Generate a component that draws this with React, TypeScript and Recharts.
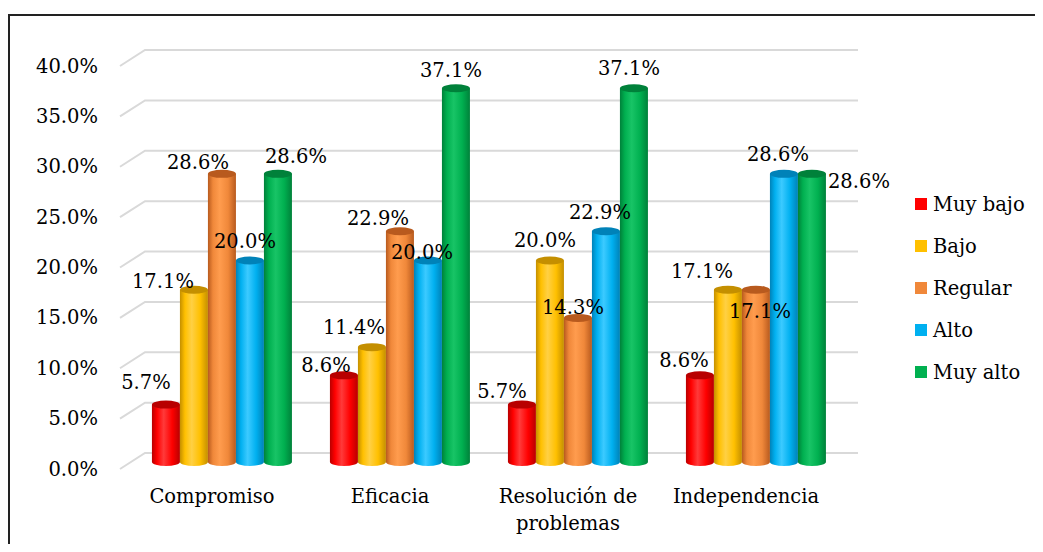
import { Bar, BarChart, CartesianGrid, LabelList, XAxis, YAxis } from 'recharts'

const CATEGORIES = ['Compromiso', 'Eficacia', 'Resolución de problemas', 'Independencia']
const MUY_BAJO = [5.7, 8.6, 5.7, 8.6]
const BAJO = [17.1, 11.4, 20.0, 17.1]
const REGULAR = [28.6, 22.9, 14.3, 17.1]
const ALTO = [20.0, 20.0, 22.9, 28.6]
const MUY_ALTO = [28.6, 37.1, 37.1, 28.6]
const Y_TICKS = [0, 5, 10, 15, 20, 25, 30, 35, 40]

const FONT = '"DejaVu Serif", "Liberation Serif", serif'
const FONT_SIZE = 19.5

// label placement relative to the bar's top centre, [dx, dy] per category (Excel moved a few to avoid overlaps)
const LABEL_OFFSETS: Record<string, [number, number][]> = {
  muyBajo: [[-20, -22], [-18, -10], [-20, -13], [-16, -15]],
  bajo: [[-31, -8], [-18, -20], [-5, -20], [-26, -18]],
  regular: [[-24, -11], [-22, -13], [-5, -10], [4, 22]],
  alto: [[-5, -19], [-6, -8], [-6, -19], [-6, -19]],
  muyAlto: [[18, -17], [-5, -18], [-5, -20], [47, 8]],
}

const SERIES = [
  { key: 'muyBajo', name: 'Muy bajo', values: MUY_BAJO, base: '#FF0000', dark: '#B80000', light: '#FF3A3A' },
  { key: 'bajo', name: 'Bajo', values: BAJO, base: '#FFC000', dark: '#C48F00', light: '#FFD044' },
  { key: 'regular', name: 'Regular', values: REGULAR, base: '#F0883A', dark: '#B85A1E', light: '#FF9C4E' },
  { key: 'alto', name: 'Alto', values: ALTO, base: '#00B0F0', dark: '#0082B8', light: '#3CCAFF' },
  { key: 'muyAlto', name: 'Muy alto', values: MUY_ALTO, base: '#00B050', dark: '#00813A', light: '#18C466' },
]

const data = CATEGORIES.map((cat, i) => {
  const row: Record<string, string | number> = { cat }
  SERIES.forEach((s) => {
    row[s.key] = s.values[i]
  })
  return row
})

// wrap long category names into lines of ~14 chars
const wrap = (txt: string, max = 14) => {
  const lines: string[] = []
  let cur = ''
  txt.split(' ').forEach((w) => {
    if (cur && (cur + ' ' + w).length > max) {
      lines.push(cur)
      cur = w
    } else {
      cur = cur ? cur + ' ' + w : w
    }
  })
  if (cur) lines.push(cur)
  return lines
}

const Cylinder = (props: any) => {
  const { x, y, width, height, gradId, top } = props
  if (!height || height <= 0) return null
  const rx = width / 2
  const ry = 4
  return (
    <g>
      <path
        d={`M${x},${y} L${x},${y + height} A${rx},${ry} 0 0 0 ${x + width},${y + height} L${x + width},${y} Z`}
        fill={`url(#${gradId})`}
      />
      <ellipse cx={x + rx} cy={y} rx={rx} ry={ry} fill={top} />
    </g>
  )
}

const GridLine = (p: any) => {
  const { x1, x2, y1 } = p
  return (
    <path
      key={`g-${y1}`}
      d={`M${x1 - 12},${y1 + 7} L${x1 + 13},${y1 - 9} L${x2 + 14},${y1 - 9}`}
      stroke="#d9d9d9"
      strokeWidth={2}
      fill="none"
    />
  )
}

const YTick = (p: any) => {
  const { y, payload } = p
  return (
    <text x={90} y={y + 7} textAnchor="end" dominantBaseline="central" fontFamily={FONT} fontSize={FONT_SIZE} fill="#000">
      {payload.value.toFixed(1)}%
    </text>
  )
}

const XTick = (p: any) => {
  const { x, y, payload } = p
  const lines = wrap(String(payload.value))
  return (
    <text x={x - 9} y={y + 33} textAnchor="middle" fontFamily={FONT} fontSize={FONT_SIZE} fill="#000">
      {lines.map((l, i) => (
        <tspan key={i} x={x - 9} dy={i === 0 ? 0 : 27}>
          {l}
        </tspan>
      ))}
    </text>
  )
}

const makeLabel = (key: string) => (p: any) => {
  const { x, y, width, value, index } = p
  const [dx, dy] = LABEL_OFFSETS[key][index] ?? [0, -17]
  return (
    <text
      x={x + width / 2 + dx}
      y={y + dy}
      textAnchor="middle"
      dominantBaseline="central"
      fontFamily={FONT}
      fontSize={FONT_SIZE}
      fill="#000"
    >
      {Number(value).toFixed(1)}%
    </text>
  )
}

export default function App() {
  return (
    <div style={{ position: 'relative', width: 1027, height: 536, overflow: 'hidden', fontFamily: FONT }}>
      <div
        style={{
          position: 'absolute',
          left: 0,
          top: 6,
          width: 1100,
          height: 600,
          border: '2px solid #222',
          boxSizing: 'border-box',
        }}
      />
      <div style={{ position: 'absolute', left: 0, top: 0 }}>
        <BarChart
          width={1027}
          height={536}
          data={data}
          margin={{ top: 51, right: 191, left: 0, bottom: 22 }}
          barCategoryGap="11.2%"
          barGap={0}
        >
          <defs>
            {SERIES.map((s) => (
              <linearGradient key={s.key} id={`grad-${s.key}`} x1="0" y1="0" x2="1" y2="0">
                <stop offset="0%" stopColor={s.dark} />
                <stop offset="18%" stopColor={s.base} />
                <stop offset="42%" stopColor={s.light} />
                <stop offset="72%" stopColor={s.base} />
                <stop offset="100%" stopColor={s.dark} />
              </linearGradient>
            ))}
          </defs>
          <CartesianGrid vertical={false} horizontal={GridLine} />
          <XAxis dataKey="cat" axisLine={false} tickLine={false} tick={XTick} height={60} interval={0} />
          <YAxis
            domain={[0, 40]}
            ticks={Y_TICKS}
            axisLine={false}
            tickLine={false}
            tick={YTick}
            width={124}
          />
          {SERIES.map((s) => (
            <Bar
              key={s.key}
              dataKey={s.key}
              name={s.name}
              fill={s.base}
              isAnimationActive={false}
              shape={(p: any) => <Cylinder {...p} gradId={`grad-${s.key}`} top={s.dark} />}
            >
              <LabelList dataKey={s.key} content={makeLabel(s.key)} />
            </Bar>
          ))}
        </BarChart>
      </div>
      <div style={{ position: 'absolute', left: 907, top: 175, fontSize: FONT_SIZE, color: '#000' }}>
        {SERIES.map((s) => (
          <div key={s.key} style={{ display: 'flex', alignItems: 'center', height: 42 }}>
            <span style={{ width: 12, height: 12, background: s.base, marginRight: 6, display: 'inline-block' }} />
            <span>{s.name}</span>
          </div>
        ))}
      </div>
    </div>
  )
}
